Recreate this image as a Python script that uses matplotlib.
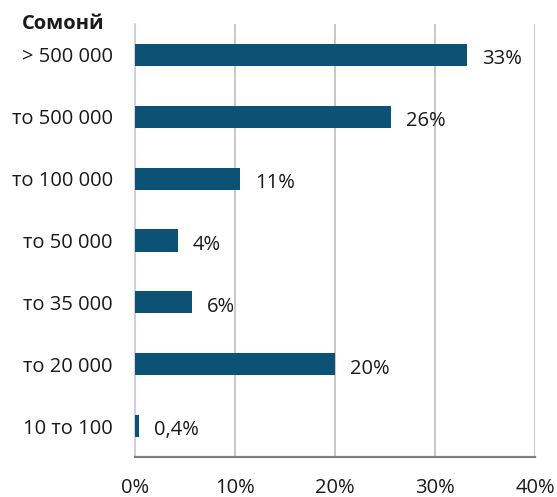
import matplotlib.pyplot as plt
import numpy as np

categories = ["> 500 000", "то 500 000", "то 100 000", "то 50 000",
              "то 35 000", "то 20 000", "10 то 100"]
values = [33.2, 25.6, 10.5, 4.3, 5.7, 20.0, 0.4]
labels = ["33%", "26%", "11%", "4%", "6%", "20%", "0,4%"]
xticks = [0, 10, 20, 30, 40]
xticklabels = ["0%", "10%", "20%", "30%", "40%"]

plt.rcParams["font.family"] = ["Open Sans", "DejaVu Sans"]

BAR = "#0B5275"
INK = "#1a1a1a"
FS = 14.5

fig = plt.figure(figsize=(5.57, 4.97), dpi=100)
ax = fig.add_axes([0.2424, 0.0805, 0.7181, 0.8712])

y = np.arange(len(categories))
ax.barh(y, values, height=0.36, color=BAR, zorder=3)
for yi, v, lab in zip(y, values, labels):
    ax.text(v + 1.5, yi + 0.03, lab, ha="left", va="center_baseline",
            fontsize=FS, color=INK, zorder=4)

ax.set_ylim(len(categories) - 0.5, -0.5)
ax.set_xlim(0, 40)
ax.set_yticks(y)
ax.set_yticklabels(categories, fontsize=FS, color=INK)
ax.set_xticks(xticks)
ax.set_xticklabels(xticklabels, fontsize=FS, color=INK)
ax.tick_params(axis="y", length=0, pad=16)
ax.tick_params(axis="x", length=0, pad=15)

ax.grid(axis="x", color="#BFBFBF", linewidth=1.2, zorder=0)
for s in ("top", "right"):
    ax.spines[s].set_visible(False)
ax.spines["left"].set_color("#D0CCE6")
ax.spines["left"].set_linewidth(1.2)
ax.spines["bottom"].set_color("#808080")
ax.spines["bottom"].set_linewidth(1.6)

fig.text(0.04, 0.952, "Сомонй", ha="left", va="center", fontsize=FS,
         weight="bold", color=INK)

fig.savefig("out.png", dpi=100)
